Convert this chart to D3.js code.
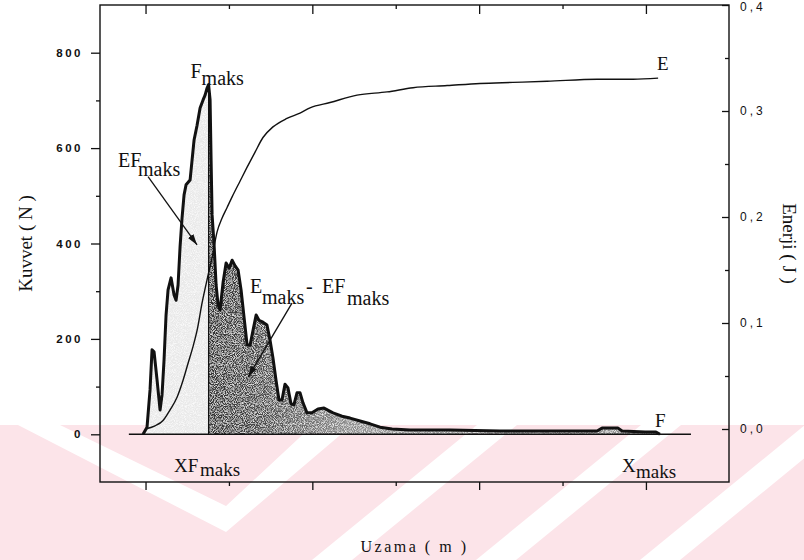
<html>
<head>
<meta charset="utf-8">
<style>
  body { margin: 0; background: #fff; }
  svg { display: block; }
  text { fill: #111; }
</style>
</head>
<body>

<svg id="chart"></svg>

<script src="https://cdn.jsdelivr.net/npm/d3@7/dist/d3.min.js"></script>
<script>
// force curve F (N) against elongation
var forceX = [-0.015,0.009,0.027,0.039,0.051,0.069,0.087,0.099,0.111,0.123,0.135,0.153,0.171,0.183,0.195,0.207,0.219,0.231,0.243,0.267,
              0.279,0.291,0.309,0.327,0.345,0.357,0.369,0.378,0.387,0.393,0.399,0.411,0.423,0.435,0.447,0.465,0.483,0.501,0.519,0.537,
              0.555,0.573,0.591,0.609,0.627,0.645,0.663,0.680,0.704,0.728,0.746,0.764,0.782,0.800,0.818,0.836,0.854,0.872,0.890,0.908,
              0.926,0.944,0.968,0.998,1.034,1.070,1.124,1.178,1.226,1.286,1.346,1.406,1.478,1.586,1.826,2.125,2.425,2.707,2.737,2.833,
              2.857,2.995,3.060,3.084];
var forceN = [0,15,93,177,173,114,51,83,156,250,303,328,292,281,313,393,454,502,523,533,
              575,617,648,684,701,711,726,733,701,575,460,397,313,271,261,319,359,348,365,353,
              344,302,244,187,187,219,250,239,235,229,198,160,114,72,72,105,97,64,62,87,
              87,66,45,45,53,55,45,38,34,28,22,15,11,9,9,7,7,7,13,13,
              7,5,5,0];

// cumulative energy E (J)
var energyX = [-0.003,0.057,0.105,0.147,0.189,0.225,0.255,0.285,0.309,0.339,0.369,0.399,0.429,0.459,0.489,0.519,0.567,0.609,
               0.656,0.704,0.764,0.848,0.926,0.986,1.106,1.268,1.448,1.604,1.808,2.005,2.203,2.407,2.707,2.923,3.073];
var energyJ = [0,0.003,0.008,0.018,0.030,0.046,0.062,0.078,0.093,0.119,0.141,0.162,0.186,0.199,0.209,0.219,0.234,0.247,
               0.261,0.275,0.285,0.293,0.298,0.303,0.308,0.315,0.318,0.322,0.324,0.326,0.327,0.328,0.330,0.330,0.331];

var xFmax = 0.378;          // elongation at maximum force
var baseStart = -0.10, baseEnd = 3.27;

var forceTicks = [0, 200, 400, 600, 800];
var forceMinor = [100, 300, 500, 700];
var energyTicks = [0, 0.1, 0.2, 0.3, 0.4];
var energyMinor = [0.05, 0.15, 0.25, 0.35];
var xMajor = [0, 1, 2, 3];
var xMinor = [0.5, 1.5, 2.5];

var W = 804, H = 560;
var plotL = 100, plotR = 729, plotT = 5, plotB = 482;

var svg = d3.select("svg#chart")
    .attr("width", W)
    .attr("height", H)
    .style("font-family", "'Liberation Serif', 'Times New Roman', serif");

var defs = svg.append("defs");

// speckle texture like the scanned stipple shading
var grain = defs.append("filter").attr("id", "grain");
grain.append("feTurbulence").attr("type", "fractalNoise").attr("baseFrequency", 1.1)
    .attr("numOctaves", 1).attr("seed", 7).attr("result", "noise");
grain.append("feColorMatrix").attr("in", "noise").attr("type", "matrix")
    .attr("values", "0 0 0 0 1  0 0 0 0 1  0 0 0 0 1  2.4 0 0 0 -1.0").attr("result", "specks");
grain.append("feComposite").attr("in", "specks").attr("in2", "SourceGraphic").attr("operator", "in").attr("result", "clipped");
var merge = grain.append("feMerge");
merge.append("feMergeNode").attr("in", "SourceGraphic");
merge.append("feMergeNode").attr("in", "clipped");

var grad = defs.append("linearGradient").attr("id", "darkFill")
    .attr("gradientUnits", "userSpaceOnUse")
    .attr("x1", 208).attr("x2", 660).attr("y1", 0).attr("y2", 0);
[[0, "#333"], [0.1, "#444"], [0.2, "#666"], [0.3, "#8a8a8a"], [0.45, "#9a9a9a"], [1, "#8c8c8c"]].forEach(function(s) {
    grad.append("stop").attr("offset", s[0]).attr("stop-color", s[1]);
});

defs.append("marker")
    .attr("id", "arrow")
    .attr("viewBox", "0 0 10 6")
    .attr("refX", 10).attr("refY", 3)
    .attr("markerWidth", 11).attr("markerHeight", 7)
    .attr("markerUnits", "userSpaceOnUse")
    .attr("orient", "auto")
  .append("path")
    .attr("d", "M0,0 L10,3 L0,6 Z")
    .attr("fill", "#111");

// pink watermark band of the scanned page
var wm = svg.append("g").attr("class", "watermark");
wm.append("rect").attr("x", 0).attr("y", 425).attr("width", W).attr("height", H - 425).attr("fill", "#fce4e9");
wm.append("polygon").attr("points", "18,425 60,425 226,506 313,425 352,425 226,532").attr("fill", "#fff");
[477, 641, 805].forEach(function(t) {
    wm.append("polygon")
        .attr("points", [[t, 425], [t + 40, 425], [t + 40 - 165, 560], [t - 165, 560]].join(" "))
        .attr("fill", "#fff");
});

var x = d3.scaleLinear().domain([-0.273, 3.498]).range([plotL, plotR]);
var yF = d3.scaleLinear().domain([-100, 900]).range([plotB, plotT]);
var yE = d3.scaleLinear().domain([-0.05, 0.4]).range([plotB, plotT]);

var force = forceX.map(function(d, i) { return {x: d, f: forceN[i]}; });
var energy = energyX.map(function(d, i) { return {x: d, e: energyJ[i]}; });

var area = d3.area()
    .x(function(d) { return x(d.x); })
    .y0(yF(0))
    .y1(function(d) { return yF(d.f); });

// light shading up to XFmaks, dark after it
svg.append("path")
    .datum(force.filter(function(d) { return d.x <= xFmax; }))
    .attr("d", area)
    .attr("fill", "#e9e9e9")
    .attr("filter", "url(#grain)");

svg.append("path")
    .datum(force.filter(function(d) { return d.x >= xFmax; }))
    .attr("d", area)
    .attr("fill", "url(#darkFill)")
    .attr("filter", "url(#grain)");

// zero line and XFmaks divider
svg.append("line")
    .attr("x1", x(baseStart)).attr("x2", x(baseEnd))
    .attr("y1", yF(0)).attr("y2", yF(0))
    .attr("stroke", "#111").attr("stroke-width", 1.4);

svg.append("line")
    .attr("x1", x(xFmax)).attr("x2", x(xFmax))
    .attr("y1", yF(0)).attr("y2", yF(d3.max(forceN)))
    .attr("stroke", "#111").attr("stroke-width", 1.2);

// energy curve
svg.append("path")
    .datum(energy)
    .attr("d", d3.line().x(function(d) { return x(d.x); }).y(function(d) { return yE(d.e); }).curve(d3.curveMonotoneX))
    .attr("fill", "none")
    .attr("stroke", "#111")
    .attr("stroke-width", 1.4);

// force curve
svg.append("path")
    .datum(force)
    .attr("d", d3.line().x(function(d) { return x(d.x); }).y(function(d) { return yF(d.f); }))
    .attr("fill", "none")
    .attr("stroke", "#111")
    .attr("stroke-width", 3)
    .attr("stroke-linejoin", "round");

// axes
function styleAxis(g) {
    g.select(".domain").remove();
    g.selectAll(".tick line").attr("stroke", "#111").attr("stroke-width", 1.3);
}

svg.append("g")
    .attr("transform", "translate(" + plotL + ",0)")
    .call(d3.axisLeft(yF).tickValues(forceTicks).tickSize(9).tickPadding(8).tickFormat(d3.format("d")))
    .call(styleAxis)
    .selectAll("text")
    .style("font-family", "'Liberation Sans', Arial, sans-serif")
    .style("font-size", "11.5px")
    .style("font-weight", "bold")
    .style("letter-spacing", "2.5px")
    .attr("fill", "#111");

svg.append("g")
    .attr("transform", "translate(" + plotL + ",0)")
    .call(d3.axisLeft(yF).tickValues(forceMinor).tickSize(4).tickFormat(""))
    .call(styleAxis);

var eAxis = svg.append("g")
    .attr("transform", "translate(" + plotR + ",0)")
    .call(d3.axisRight(yE).tickValues(energyTicks).tickSizeInner(-7).tickSizeOuter(0).tickPadding(11)
        .tickFormat(function(d) { return d3.format(".1f")(d).replace(".", ","); }))
    .call(styleAxis);
eAxis.selectAll("text")
    .style("font-family", "'Liberation Sans', Arial, sans-serif")
    .style("font-size", "12px")
    .style("letter-spacing", "3px")
    .attr("fill", "#111");
// the top label sits right at the page edge in the scan, keep it inside
eAxis.selectAll(".tick").filter(function(d) { return d === 0.4; }).select("text").attr("y", 2);

svg.append("g")
    .attr("transform", "translate(" + plotR + ",0)")
    .call(d3.axisRight(yE).tickValues(energyMinor).tickSizeInner(-4).tickSizeOuter(0).tickFormat(""))
    .call(styleAxis);

svg.append("g")
    .attr("transform", "translate(0," + plotB + ")")
    .call(d3.axisBottom(x).tickValues(xMajor).tickSize(8).tickFormat(""))
    .call(styleAxis);

svg.append("g")
    .attr("transform", "translate(0," + plotB + ")")
    .call(d3.axisBottom(x).tickValues(xMinor).tickSize(4).tickFormat(""))
    .call(styleAxis);

svg.append("g")
    .attr("transform", "translate(0," + plotT + ")")
    .call(d3.axisTop(x).tickValues(xMajor).tickSizeInner(-9).tickSizeOuter(0).tickFormat(""))
    .call(styleAxis);

svg.append("g")
    .attr("transform", "translate(0," + plotT + ")")
    .call(d3.axisTop(x).tickValues(xMinor).tickSizeInner(-4).tickSizeOuter(0).tickFormat(""))
    .call(styleAxis);

svg.append("rect")
    .attr("x", plotL).attr("y", plotT)
    .attr("width", plotR - plotL).attr("height", plotB - plotT)
    .attr("fill", "none")
    .attr("stroke", "#111")
    .attr("stroke-width", 1.4);

// axis titles
svg.append("text")
    .attr("transform", "translate(32," + (plotT + plotB) / 2 + ") rotate(-90)")
    .attr("text-anchor", "middle")
    .style("font-size", "19px")
    .text("Kuvvet ( N )");

svg.append("text")
    .attr("transform", "translate(783," + (plotT + plotB) / 2 + ") rotate(90)")
    .attr("text-anchor", "middle")
    .style("font-size", "19px")
    .text("Enerji ( J )");

svg.append("text")
    .attr("x", (plotL + plotR) / 2).attr("y", 552)
    .attr("text-anchor", "middle")
    .style("font-size", "16px")
    .style("letter-spacing", "2.5px")
    .text("Uzama ( m )");

// annotations: each part is [text, x, y]
function label(parts, size) {
    var t = svg.append("text").style("font-size", size + "px");
    parts.forEach(function(p) {
        t.append("tspan").attr("x", p[1]).attr("y", p[2]).text(p[0]);
    });
}

var peakX = x(xFmax), peakY = yF(d3.max(forceN));
label([["F", peakX - 18, peakY - 7], ["maks", peakX - 7, peakY]], 20);
label([["EF", 118, 167], ["maks", 138, 176]], 20);
label([["E", 250, 293], ["maks", 262, 304], ["-", 306, 293], ["EF", 322, 293], ["maks", 347, 305]], 20);
label([["XF", 174, 472], ["maks", 200, 476]], 19);
label([["X", 622, 472], ["maks", 636, 478]], 19);
label([["E", 657, 70]], 19);
label([["F", 655, 427]], 19);

// arrows
svg.append("line")
    .attr("x1", x(0.015)).attr("y1", yF(540))
    .attr("x2", x(0.309)).attr("y2", yF(397))
    .attr("stroke", "#111").attr("stroke-width", 1.3)
    .attr("marker-end", "url(#arrow)");

svg.append("line")
    .attr("x1", x(0.878)).attr("y1", yF(275))
    .attr("x2", x(0.615)).attr("y2", yF(120))
    .attr("stroke", "#111").attr("stroke-width", 1.3)
    .attr("marker-end", "url(#arrow)");
</script>
</body>
</html>
